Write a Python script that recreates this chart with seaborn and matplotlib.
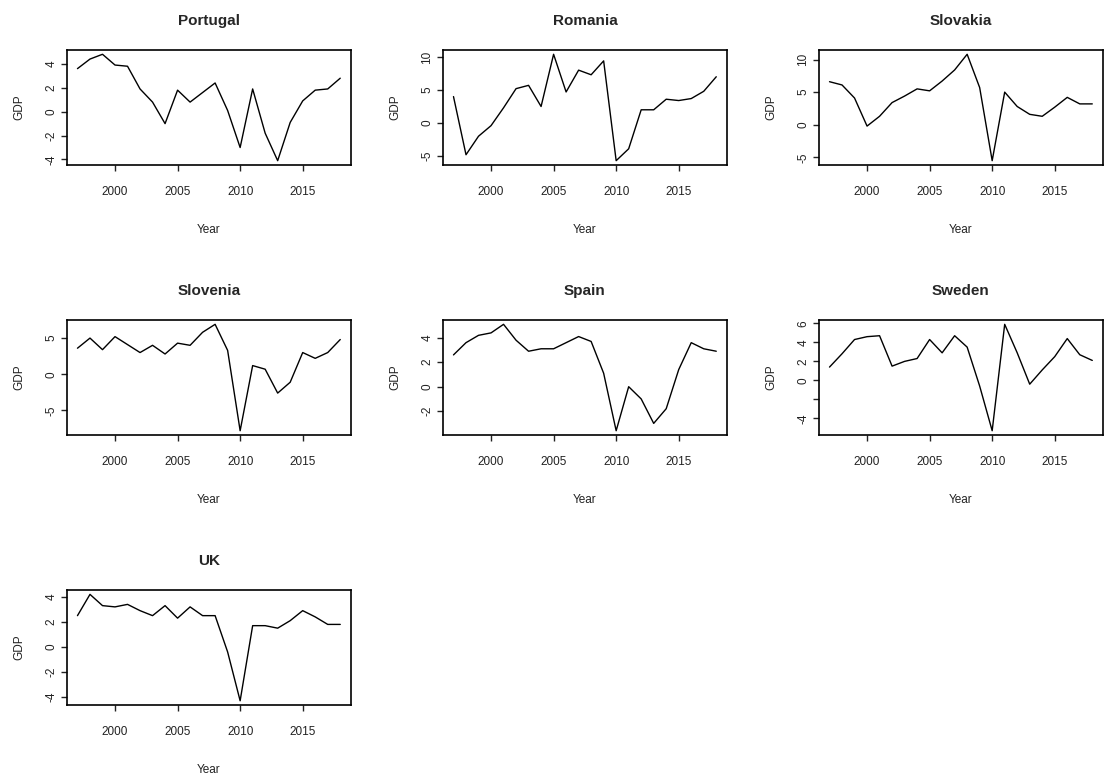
import numpy as np
import pandas as pd
import matplotlib
matplotlib.use("Agg")
import matplotlib.pyplot as plt
import seaborn as sns

years = list(range(1997, 2019))

portugal = [3.6, 4.4, 4.8, 3.9, 3.8, 1.9, 0.8, -1.0, 1.8, 0.8, 1.6, 2.4, 0.1, -3.0, 1.9, -1.8, -4.1, -0.9, 0.9, 1.8, 1.9, 2.8]
romania = [4.0, -4.8, -2.0, -0.4, 2.3, 5.2, 5.7, 2.5, 10.4, 4.7, 8.0, 7.3, 9.4, -5.7, -3.9, 2.0, 2.0, 3.6, 3.4, 3.7, 4.8, 7.0]
slovakia = [6.6, 6.1, 4.1, -0.2, 1.3, 3.4, 4.4, 5.5, 5.2, 6.7, 8.4, 10.8, 5.7, -5.5, 5.0, 2.8, 1.6, 1.3, 2.7, 4.2, 3.2, 3.2]
slovenia = [3.6, 5.0, 3.4, 5.2, 4.1, 3.0, 4.0, 2.8, 4.3, 4.0, 5.8, 6.9, 3.3, -7.8, 1.2, 0.7, -2.6, -1.1, 3.0, 2.2, 3.0, 4.8]
spain = [2.6, 3.6, 4.2, 4.4, 5.1, 3.8, 2.9, 3.1, 3.1, 3.6, 4.1, 3.7, 1.1, -3.6, 0.0, -1.0, -3.0, -1.8, 1.4, 3.6, 3.1, 2.9]
sweden = [1.4, 2.8, 4.3, 4.6, 4.7, 1.5, 2.0, 2.3, 4.3, 2.9, 4.7, 3.5, -0.6, -5.3, 5.9, 2.9, -0.4, 1.1, 2.5, 4.4, 2.7, 2.1]
uk = [2.5, 4.2, 3.3, 3.2, 3.4, 2.9, 2.5, 3.3, 2.3, 3.2, 2.5, 2.5, -0.4, -4.3, 1.7, 1.7, 1.5, 2.1, 2.9, 2.4, 1.8, 1.8]

countries = ["Portugal", "Romania", "Slovakia", "Slovenia", "Spain", "Sweden", "UK"]
series = [portugal, romania, slovakia, slovenia, spain, sweden, uk]

x_ticks = [2000, 2005, 2010, 2015]
y_ticks = {
    "Portugal": ([-4, -2, 0, 2, 4], ["-4", "-2", "0", "2", "4"]),
    "Romania": ([-5, 0, 5, 10], ["-5", "0", "5", "10"]),
    "Slovakia": ([-5, 0, 5, 10], ["-5", "0", "5", "10"]),
    "Slovenia": ([-5, 0, 5], ["-5", "0", "5"]),
    "Spain": ([-2, 0, 2, 4], ["-2", "0", "2", "4"]),
    "Sweden": ([-4, -2, 0, 2, 4, 6], ["-4", "", "0", "2", "4", "6"]),
    "UK": ([-4, -2, 0, 2, 4], ["-4", "-2", "0", "2", "4"]),
}

sns.set_style("ticks")
plt.rcParams['font.family'] = ['Liberation Sans', 'DejaVu Sans']

fig, axes = plt.subplots(3, 3, figsize=(11.05, 7.78), dpi=100)
fig.subplots_adjust(left=0.0606, right=0.998, top=0.9357, bottom=0.0938,
                    wspace=0.325, hspace=1.35)

for i, ax in enumerate(axes.flat):
    if i >= len(countries):
        ax.set_visible(False)
        continue
    name = countries[i]
    df = pd.DataFrame({"Year": years, "GDP": series[i]})
    sns.lineplot(data=df, x="Year", y="GDP", ax=ax, color="black", linewidth=1.0)
    ax.margins(x=0.04, y=0.04)
    ax.set_xticks(x_ticks)
    ax.set_xticklabels([str(t) for t in x_ticks], fontsize=8.5)
    yt, yl = y_ticks[name]
    ax.set_yticks(yt)
    ax.set_yticklabels(yl, fontsize=8.5, rotation=90, va="center")
    ax.tick_params(axis="x", length=4, width=1, pad=11, colors="#222222")
    ax.tick_params(axis="y", length=4, width=1, pad=3, colors="#222222")
    for s in ax.spines.values():
        s.set_visible(True)
        s.set_linewidth(1.2)
        s.set_color("black")
    ax.set_title(name, fontsize=11, fontweight="bold", pad=18)
    ax.set_xlabel("Year", fontsize=8.5, labelpad=19, color="#222222")
    ax.set_ylabel("GDP", fontsize=8.5, labelpad=14, color="#222222")

fig.savefig("out.png", dpi=100, facecolor="white")
